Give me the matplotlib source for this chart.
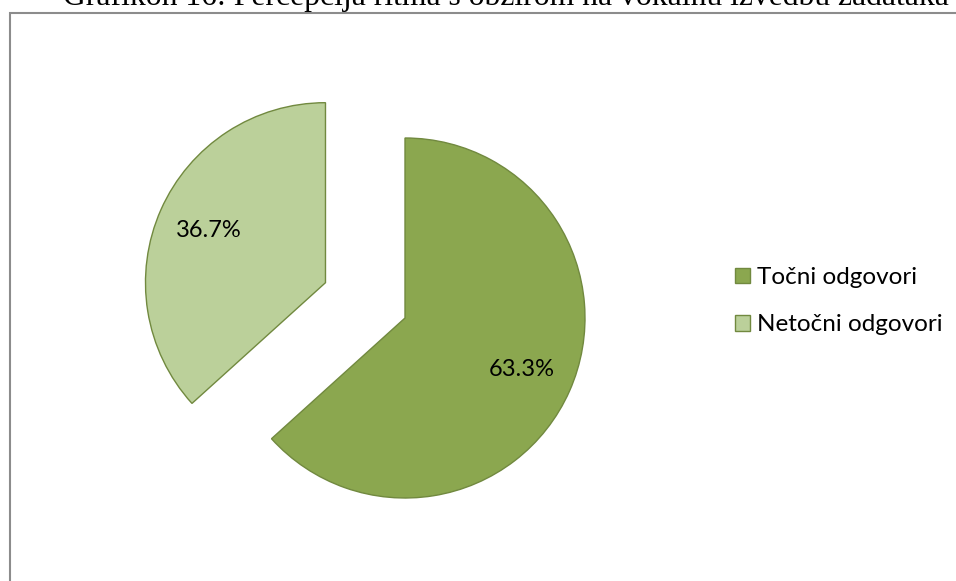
import matplotlib.pyplot as plt
from matplotlib.patches import Rectangle

# data
categories = ['Točni odgovori', 'Netočni odgovori']
shares = [63.3, 36.7]
colors = ['#8BA74F', '#BBD09A']
title = 'Grafikon 16: Percepcija ritma s obzirom na vokalnu izvedbu zadataka'

W, H = 956, 581
fig = plt.figure(figsize=(W / 100, H / 100), dpi=100)
fig.patch.set_facecolor('white')

# chart area border (cut by image edges on right/bottom)
fig.patches.append(Rectangle((10 / W, -0.1), 1.2, (H - 13) / H + 0.1,
                             transform=fig.transFigure, fill=False,
                             edgecolor='#8C8C8C', linewidth=1.5))

ax = fig.add_axes([0, 0, 1, 1])
ax.set_xlim(0, W)
ax.set_ylim(0, H)
ax.set_aspect('equal')
ax.axis('off')

# explode is in data units here (pixels), not scaled by the radius
wedges, texts, autotexts = ax.pie(
    shares, colors=colors, startangle=90, counterclock=False,
    center=(405, H - 318), radius=180, explode=[0, 87],
    autopct='%.1f%%', pctdistance=0.71,
    wedgeprops={'edgecolor': '#71893F', 'linewidth': 1.0},
    textprops={'fontsize': 17, 'family': ['Lato', 'DejaVu Sans'], 'color': 'black'})
ax.set_xlim(0, W)
ax.set_ylim(0, H)

leg = ax.legend(wedges, categories, loc='upper left',
                bbox_to_anchor=(735 / W, 1 - 267 / H), frameon=False,
                borderpad=0, borderaxespad=0,
                prop={'family': ['Lato', 'DejaVu Sans'], 'size': 17.5},
                handlelength=0.62, handleheight=0.62, handletextpad=0.3,
                labelspacing=1.08)

fig.text(63 / W, 1 - 5 / H, title, family='Liberation Serif', fontsize=22.8,
         ha='left', va='baseline')

fig.savefig('out.png', dpi=100)
